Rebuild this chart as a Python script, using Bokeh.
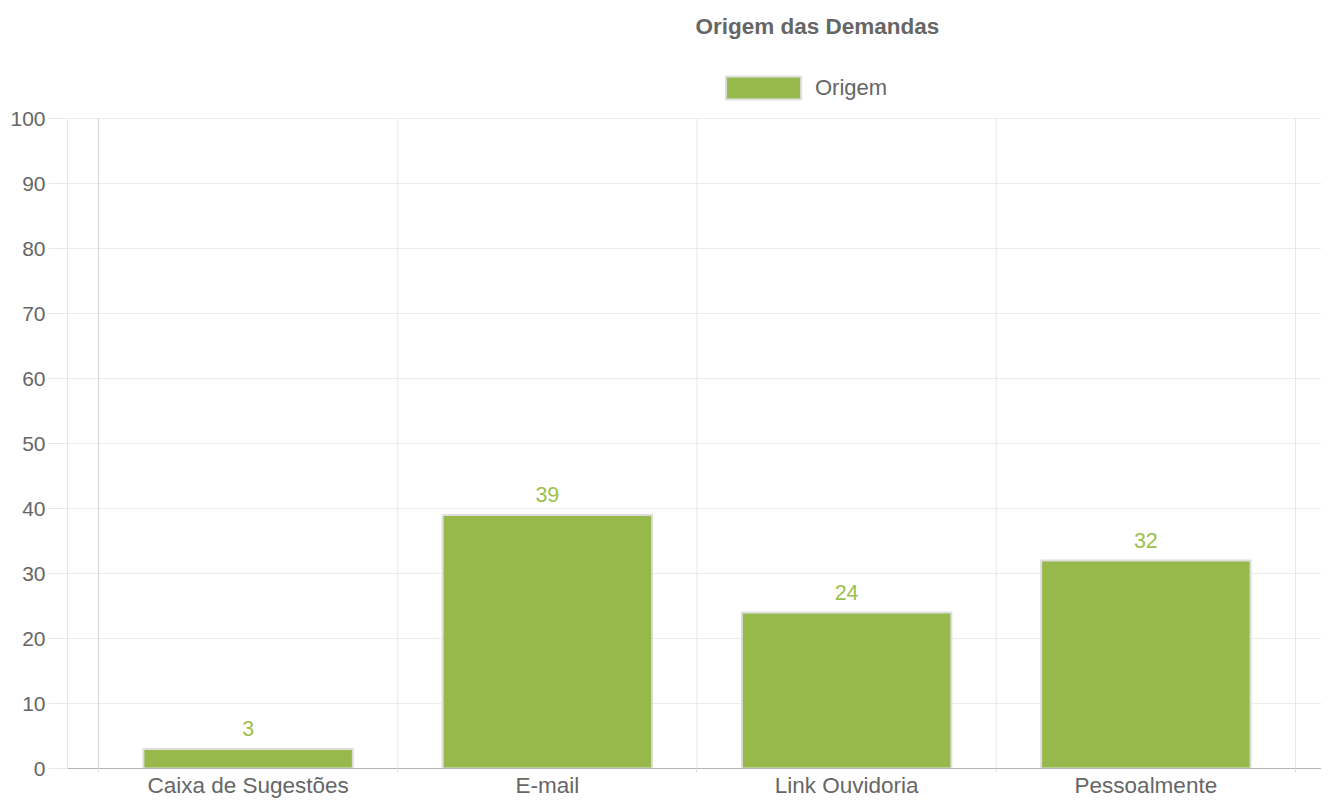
from bokeh.plotting import figure
from bokeh.models import (FixedTicker, Range1d, Legend, LegendItem, ColumnDataSource)
from bokeh.core.properties import value
from bokeh.embed import file_html
from bokeh.resources import INLINE

# ---- data ----
categories = ["Caixa de Sugestões", "E-mail", "Link Ouvidoria", "Pessoalmente"]
counts = [3, 39, 24, 32]
series_name = "Origem"
title_text = "Origem das Demandas"
y_ticks = [0, 10, 20, 30, 40, 50, 60, 70, 80, 90, 100]

FONT = "Liberation Sans"
BAR = "#97b94b"
LABEL_GREEN = "#9bc04f"
TEXT = "#666666"

n = len(categories)
centers = [i + 0.5 for i in range(n)]
bounds = [i for i in range(n + 1)]
y_min, y_max = y_ticks[0], y_ticks[-1]

src = ColumnDataSource(dict(x=centers, top=counts, cat=categories,
                            lbl=[str(v) for v in counts]))

# frame: left 67, right 1321, top 45, bottom 768 ; value 100 sits at y=118
TOP_PX, VAL100_PX, BOTTOM_PX = 45, 118, 768
y_end = y_max * (BOTTOM_PX - TOP_PX) / (BOTTOM_PX - VAL100_PX)

p = figure(width=1321, height=801, output_backend="svg", toolbar_location=None,
           x_range=Range1d(-0.1036, 4.0869), y_range=Range1d(y_min, y_end),
           min_border_left=67, min_border_right=0, min_border_top=TOP_PX,
           min_border_bottom=801 - BOTTOM_PX, outline_line_color=None)

# vertical category separators (grid), limited to the value axis span
grid_colors = ["#d4d4d4"] + ["#e6e6e6"] * n
p.segment(x0=bounds, y0=[y_min] * (n + 1), x1=bounds, y1=[y_max] * (n + 1),
          line_color=grid_colors, line_width=1)

r = p.vbar(x="x", top="top", width=0.7, source=src, fill_color=BAR,
           line_color="#dedede", line_width=2)
p.text(x="x", y="top", text="lbl", source=src, y_offset=-13,
       text_align="center", text_baseline="bottom", text_color=LABEL_GREEN,
       text_font=value(FONT), text_font_size="21.5px")

# x axis
p.xaxis.ticker = FixedTicker(ticks=centers, minor_ticks=bounds)
p.xaxis.major_label_overrides = {c: lab for c, lab in zip(centers, categories)}
p.xaxis.major_tick_line_color = None
p.xaxis.major_tick_out = 4
p.xaxis.major_tick_in = 0
p.xaxis.minor_tick_out = 4
p.xaxis.minor_tick_in = 0
p.xaxis.minor_tick_line_color = "#e0e0e0"
p.xaxis.axis_line_color = "#b5b5b5"
p.xaxis.major_label_standoff = 0
p.xaxis.major_label_text_font = FONT
p.xaxis.major_label_text_font_size = "22.5px"
p.xaxis.major_label_text_color = TEXT
p.xgrid.grid_line_color = None

# y axis
p.yaxis.ticker = FixedTicker(ticks=y_ticks)
p.yaxis.bounds = (y_min, y_max)
p.yaxis.major_tick_out = 19
p.yaxis.major_tick_in = 0
p.yaxis.minor_tick_line_color = None
p.yaxis.major_tick_line_color = "#e8e8e8"
p.yaxis.axis_line_color = "#e5e5e5"
p.yaxis.major_label_standoff = 3
p.yaxis.major_label_text_font = FONT
p.yaxis.major_label_text_font_size = "21px"
p.yaxis.major_label_text_color = TEXT
p.ygrid.grid_line_color = "#ebebeb"

# legend (inside the frame, above the value-100 line)
legend = Legend(items=[LegendItem(label=series_name, renderers=[r])],
                location=(649, BOTTOM_PX - 102), margin=0, padding=0,
                glyph_width=94, glyph_height=29, label_standoff=5,
                label_text_font=FONT, label_text_font_size="22px",
                label_text_color=TEXT, border_line_color=None,
                background_fill_alpha=0)
p.add_layout(legend)

# title
p.title.text = title_text
p.title.align = "left"
p.title.offset = 628
p.title.standoff = 13
p.title.text_font = FONT
p.title.text_font_size = "22.5px"
p.title.text_font_style = "bold"
p.title.text_color = TEXT

open("out.html", "w").write(file_html(p, INLINE))
